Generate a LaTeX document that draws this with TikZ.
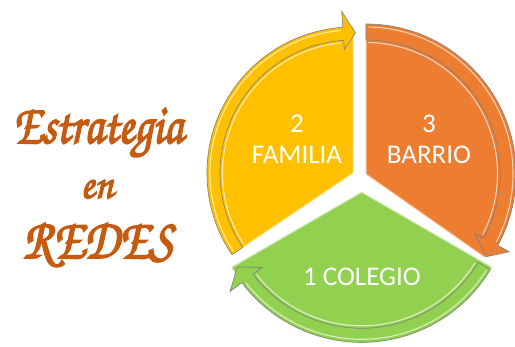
\documentclass[tikz,border=0pt]{standalone}
\usepackage{fontspec}
\usepackage{graphicx}
\setmainfont{Carlito}
\newfontfamily\chorus[FakeBold=3]{texgyrechorus-mediumitalic.otf}
\definecolor{cy}{HTML}{FFC000}
\definecolor{co}{HTML}{ED7D31}
\definecolor{cg}{HTML}{92D050}
\definecolor{ct}{HTML}{C55A11}
\definecolor{edgegray}{HTML}{7F7F7F}
\begin{document}
\begin{tikzpicture}[x=1pt,y=1pt,
  sector/.style={fill=#1, draw=#1!45!white, line width=1pt, line join=round},
  band/.style={fill=#1, draw=edgegray, line width=0.6pt, line join=miter},
  shine/.style={draw=#1!35!white, line width=1.1pt},
  lbl/.style={text=white, font=\fontsize{27}{31}\selectfont, align=center, inner sep=0pt},
  titletext/.style={text=ct, inner sep=0pt, anchor=base}]
\useasboundingbox (0,0) rectangle (515,347);

% yellow sector + arrow
\begin{scope}[shift={(353,174)}]
  \path[sector=cy] (0,0) -- (90:146) arc[start angle=90,end angle=214,radius=146] -- cycle;
  \path[band=cy] (214:146) arc[start angle=214,end angle=94,radius=146] -- (94:162) -- (89:140) -- (94:124) -- (94:133) arc[start angle=94,end angle=214,radius=133] -- cycle;
  \draw[shine=cy] (213:143) arc[start angle=213,end angle=95,radius=143];
  \draw[shine=cy] (213:130.5) arc[start angle=213,end angle=95,radius=130.5];
\end{scope}

% orange sector + arrow
\begin{scope}[shift={(366,173)}]
  \path[sector=co] (0,0) -- (-35:145) arc[start angle=-35,end angle=90,radius=145] -- cycle;
  \path[band=co] (90:150) arc[start angle=90,end angle=-28.5,radius=150] -- (-28.5:163) -- (-34.5:146) -- (-28.5:124) -- (-28.5:134) arc[start angle=-28.5,end angle=90,radius=134] -- cycle;
  \draw[shine=co] (89:147) arc[start angle=89,end angle=-27.5,radius=147];
  \draw[shine=co] (89:131.5) arc[start angle=89,end angle=-27.5,radius=131.5];
\end{scope}

% green sector + arrow
\begin{scope}[shift={(361.7,154.7)}]
  \path[sector=cg] (0,0) -- (210:150) arc[start angle=210,end angle=330,radius=150] -- cycle;
  \path[band=cg] (-31:150) arc[start angle=-31,end angle=-143,radius=150] -- (-143:165) -- (-149:145) -- (-143:125) -- (-143:136) arc[start angle=-143,end angle=-31,radius=136] -- cycle;
  \draw[shine=cg] (-32:147) arc[start angle=-32,end angle=-142,radius=147];
  \draw[shine=cg] (-32:133.5) arc[start angle=-32,end angle=-142,radius=133.5];
\end{scope}

\node[lbl] (fam) at (297,207.6) {2\\FAMILIA};
\node[lbl] (bar) at (429,207.6) {3\\BARRIO};
\node[lbl] (col) at (362,70.3) {1 COLEGIO};

\node[titletext] (t1) at (98,204) {\resizebox{170pt}{35pt}{\chorus Estrategia}};
\node[titletext] (t2) at (97,149) {\resizebox{33pt}{18pt}{\chorus en}};
\node[titletext] (t3) at (98,89) {\resizebox{150pt}{35pt}{\chorus REDES}};
\end{tikzpicture}
\end{document}
